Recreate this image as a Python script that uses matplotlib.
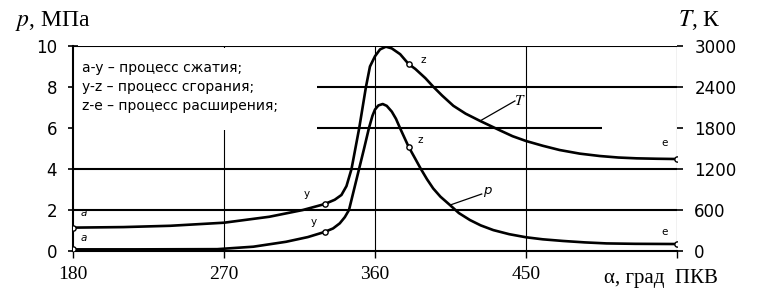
"""Indicator diagram: pressure and temperature vs crank angle."""

import matplotlib

matplotlib.use("Agg")

import matplotlib.pyplot as plt  # noqa: E402
from matplotlib.patches import Rectangle  # noqa: E402

plt.rcParams["mathtext.fontset"] = "stix"

# --------------------------------------------------------------------------- #
# Data
# --------------------------------------------------------------------------- #

alpha_p = [180, 218, 266, 287.5, 307, 320, 330, 335, 339, 342, 344.5, 347.5,
           350.5, 353.5, 356.4, 358.5, 360, 362, 364.6, 367, 370, 372.5, 375,
           380, 384, 387, 391, 394.7, 399, 404.7, 410, 416.6, 423, 430.5, 440,
           450, 460, 472, 485, 498, 515, 540]
p_vals = [0.08, 0.08, 0.09, 0.21, 0.45, 0.68, 0.93, 1.1, 1.35, 1.65, 2.0, 3.0,
          4.0, 5.0, 6.0, 6.6, 6.9, 7.1, 7.17, 7.08, 6.8, 6.45, 5.98,
          5.09, 4.5, 4.05, 3.5, 3.05, 2.65, 2.24, 1.85, 1.51, 1.25, 1.02, 0.82,
          0.67, 0.57, 0.49, 0.42, 0.37, 0.35, 0.34]

alpha_T = [180, 210, 238, 270, 297, 317, 330, 336, 340, 343, 346, 350.6,
           354.6, 357, 360, 363, 366.5, 370, 375, 380, 384, 390, 394.7, 400,
           406.7, 414, 422.5, 434.5, 442, 450, 460, 470, 482, 494, 505, 516,
           528, 540]
T_vals = [342, 350, 369, 414, 501, 600, 687, 750, 820, 950, 1200, 1800,
          2400, 2700, 2850, 2950, 2990, 2965, 2880, 2737, 2665, 2530, 2405, 2275,
          2125, 2010, 1905, 1765, 1680, 1610, 1540, 1478, 1425, 1390, 1368, 1356,
          1350, 1346]

# characteristic points a, y, z, e
key_alpha = [180, 330, 380, 540]
key_p = [0.08, 0.93, 5.09, 0.34]
key_T = [342, 687, 2737, 1346]

x_ticks = [180, 270, 360, 450, 540]
x_labels = ["180", "270", "360", "450", ""]
p_ticks = [0, 2, 4, 6, 8, 10]
T_ticks = [0, 600, 1200, 1800, 2400, 3000]

legend_lines = ["a-y – процесс сжатия;",
                "y-z – процесс сгорания;",
                "z-e – процесс расширения;"]

SANS = ["DejaVu Sans"]
SERIF = ["Liberation Serif", "DejaVu Serif"]

# --------------------------------------------------------------------------- #
# Figure
# --------------------------------------------------------------------------- #

fig = plt.figure(figsize=(7.66, 2.93), dpi=100)
ax = fig.add_axes([73 / 766, 42 / 293, 604 / 766, 205 / 293])
ax2 = ax.twinx()

ax.set_xlim(180, 540)
ax.set_ylim(0, 10)
ax2.set_ylim(0, 3000)

for a in (ax, ax2):
    for s in a.spines.values():
        s.set_visible(False)
ax.spines["left"].set_visible(True)
ax.spines["left"].set_linewidth(1.5)
ax.spines["bottom"].set_visible(True)
ax.spines["bottom"].set_linewidth(1.5)

# grid: thick horizontal lines, thin vertical ones
for y in [2, 4, 8, 10]:
    ax.axhline(y, color="black", lw=1.5, zorder=1)
ax.hlines(6, 180, 495, color="black", lw=1.5, zorder=1)
for x in [270, 360, 450, 540]:
    ax.axvline(x, color="black", lw=0.8, zorder=1)

# white box with the process list (covers the grid)
ax.add_patch(Rectangle((180.6, 5.9), 144.8, 4.0, facecolor="white",
                       edgecolor="none", zorder=2))
for i, line in enumerate(legend_lines):
    ax.text(185.4, 8.93 - i * 0.93, line, fontsize=10, family=SANS,
            va="center", ha="left", zorder=3)

# curves
ax.plot(alpha_p, p_vals, color="black", lw=1.9, zorder=4)
ax.plot(key_alpha, key_p, ls="none", marker="o", ms=3.8, mfc="white",
        mec="black", mew=1.0, zorder=5)
ax2.plot(alpha_T, T_vals, color="black", lw=1.9, zorder=4)
ax2.plot(key_alpha, key_T, ls="none", marker="o", ms=3.8, mfc="white",
         mec="black", mew=1.0, zorder=5)

# point labels
small = dict(fontsize=7.5, family=SANS, ha="center", va="center", zorder=6)
ax.text(186.6, 1.85, "a", style="italic", **small)
ax.text(186.6, 0.63, "a", style="italic", **small)
ax.text(319.3, 2.78, "y", **small)
ax.text(323.2, 1.43, "y", **small)
ax.text(388.8, 9.32, "z", **small)
ax.text(386.8, 5.41, "z", **small)
ax.text(532.8, 5.25, "e", **small)
ax.text(532.8, 0.94, "e", **small)

# curve name pointers
ax.plot([422.5, 443.4], [6.34, 7.32], color="black", lw=0.9, zorder=4)
ax.text(446.5, 7.35, "$T$", fontsize=11, ha="center", va="center")
ax.plot([404.7, 423.6], [2.24, 2.78], color="black", lw=0.9, zorder=4)
ax.text(427.0, 2.95, "p", fontsize=9.5, family=SANS, style="italic",
        ha="center", va="center")

# ticks
ax.set_xticks(x_ticks)
ax.set_xticklabels(x_labels, family=SERIF, fontsize=14)
ax.tick_params(axis="x", direction="out", length=5, width=1.0, pad=6)
ax.set_yticks(p_ticks)
ax.set_yticklabels([str(v) for v in p_ticks], family=SANS, fontsize=12)
ax.tick_params(axis="y", direction="inout", length=7, width=1.2, pad=8)
ax2.set_yticks(T_ticks)
ax2.set_yticklabels([str(v) for v in T_ticks], family=SANS, fontsize=12)
ax2.tick_params(axis="y", direction="out", length=4.5, width=1.2, pad=8,
                left=False, right=True)

# axis titles
fig.text(15 / 766, 1 - 21 / 293, "$p$, МПа", family=SERIF, fontsize=17,
         ha="left", va="center")
fig.text(678 / 766, 1 - 20 / 293, "$T$, К", family=SERIF, fontsize=17,
         ha="left", va="center")
fig.text(604 / 766, 1 - 279 / 293, "α, град  ПКВ", family=SERIF, fontsize=15,
         ha="left", va="center")

fig.savefig("out.png", dpi=100)
